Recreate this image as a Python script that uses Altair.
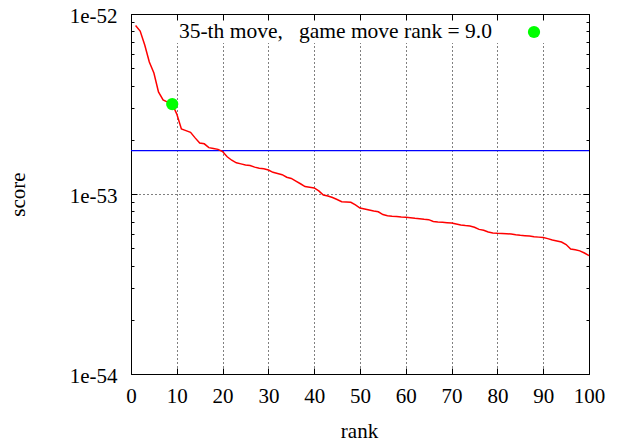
import altair as alt
import pandas as pd

# ---- data ----
ranks = list(range(1, 101))
scores = [
    8.63e-53, 8.04e-53, 6.73e-53, 5.41e-53, 4.70e-53, 3.69e-53, 3.33e-53, 3.24e-53, 3.16e-53, 2.78e-53,
    2.30e-53, 2.25e-53, 2.20e-53, 2.05e-53, 1.92e-53, 1.90e-53, 1.81e-53, 1.79e-53, 1.77e-53, 1.72e-53,
    1.61e-53, 1.54e-53, 1.49e-53, 1.47e-53, 1.45e-53, 1.44e-53, 1.41e-53, 1.39e-53, 1.38e-53, 1.36e-53,
    1.32e-53, 1.30e-53, 1.28e-53, 1.24e-53, 1.22e-53, 1.18e-53, 1.14e-53, 1.10e-53, 1.09e-53, 1.08e-53,
    1.04e-53, 9.87e-54, 9.75e-54, 9.56e-54, 9.32e-54, 9.06e-54, 9.03e-54, 9.00e-54, 8.69e-54, 8.36e-54,
    8.25e-54, 8.15e-54, 8.04e-54, 7.97e-54, 7.69e-54, 7.58e-54, 7.53e-54, 7.50e-54, 7.45e-54, 7.42e-54,
    7.38e-54, 7.33e-54, 7.29e-54, 7.24e-54, 7.20e-54, 7.03e-54, 6.99e-54, 6.96e-54, 6.93e-54, 6.90e-54,
    6.81e-54, 6.73e-54, 6.68e-54, 6.64e-54, 6.53e-54, 6.36e-54, 6.29e-54, 6.15e-54, 6.07e-54, 6.05e-54,
    6.04e-54, 6.02e-54, 5.99e-54, 5.94e-54, 5.90e-54, 5.87e-54, 5.84e-54, 5.79e-54, 5.76e-54, 5.73e-54,
    5.65e-54, 5.55e-54, 5.48e-54, 5.41e-54, 5.24e-54, 4.95e-54, 4.90e-54, 4.83e-54, 4.70e-54, 4.55e-54,
]
threshold = [1.74e-53]
game_rank = [9]
game_score = [3.16e-53]
key_label = "35-th move,\u00a0\u00a0\u00a0game move rank = 9.0"

x_ticks = [0, 10, 20, 30, 40, 50, 60, 70, 80, 90, 100]
y_major = [1e-54, 1e-53, 1e-52]
y_minor = [2e-54, 3e-54, 4e-54, 5e-54, 6e-54, 7e-54, 8e-54, 9e-54,
           2e-53, 3e-53, 4e-53, 5e-53, 6e-53, 7e-53, 8e-53, 9e-53]

df = pd.DataFrame({"rank": ranks, "score": scores})
df_thr = pd.DataFrame({"score": threshold})
df_game = pd.DataFrame({"rank": game_rank, "score": game_score})
one = pd.DataFrame({"k": [0]})

FONT = "Liberation Serif"
W, H = 458, 360

xs = alt.Scale(domain=[0, 100], nice=False, zero=False)
ys = alt.Scale(type="log", domain=[1e-54, 1e-52], nice=False)

x_main = alt.Axis(orient="bottom", values=x_ticks, format="d", grid=True,
                  gridDash=[1, 3], gridColor="black", gridWidth=1,
                  ticks=False, domain=False, labelPadding=28.5,
                  labelBaseline="alphabetic", labelFlush=False, labelOverlap=False,
                  title="rank", titleX=228, titleY=63, titleBaseline="alphabetic",
                  titleAlign="center")
y_main = alt.Axis(orient="left", values=y_major,
                  labelExpr="'1e' + round(log(datum.value) / LN10)",
                  grid=True, gridDash=[1, 3], gridColor="black", gridWidth=1,
                  ticks=False, domain=False, labelPadding=14, labelFlush=False,
                  labelOffset=2.5, labelOverlap=False, title="score", titleAngle=270,
                  titleX=-107, titleY=180, titleBaseline="alphabetic",
                  titleAlign="center")


def tick_axis(orient, offset, values, size):
    return alt.Axis(orient=orient, offset=offset, values=values, labels=False,
                    domain=False, grid=False, ticks=True, tickSize=size,
                    tickColor="black", tickWidth=1, title=None, zindex=1)


def carrier(xaxis, yaxis):
    return alt.Chart(df).mark_point(opacity=0).encode(
        x=alt.X("rank:Q", scale=xs, axis=xaxis),
        y=alt.Y("score:Q", scale=ys, axis=yaxis),
    )


thr = alt.Chart(df_thr).mark_rule(color="#0000ff", strokeWidth=1.2).encode(
    y=alt.Y("score:Q", scale=ys, axis=None)
)

line = alt.Chart(df).mark_line(color="#ff0000", strokeWidth=1.5).encode(
    x=alt.X("rank:Q", scale=xs, axis=x_main),
    y=alt.Y("score:Q", scale=ys, axis=y_main),
)

game = alt.Chart(df_game).mark_circle(size=150, color="#00ff00", opacity=1).encode(
    x=alt.X("rank:Q", scale=xs, axis=None),
    y=alt.Y("score:Q", scale=ys, axis=None),
)

key_box = alt.Chart(one).mark_rect(color="white").encode(
    x=alt.value(36), x2=alt.value(457), y=alt.value(7), y2=alt.value(29)
)
key_text = alt.Chart(one).mark_text(
    align="right", baseline="alphabetic", font=FONT, fontSize=21.5, color="black"
).encode(x=alt.value(361), y=alt.value(24), text=alt.value(key_label))
key_dot = alt.Chart(one).mark_circle(size=150, color="#00ff00", opacity=1).encode(
    x=alt.value(403), y=alt.value(18)
)

c1 = carrier(tick_axis("top", -H, x_ticks, 6), tick_axis("right", -W, y_major, 6))
c2 = carrier(tick_axis("bottom", -H, x_ticks, 6), tick_axis("left", -W, y_major, 6))
c3 = carrier(None, tick_axis("right", -W, y_minor, 3))
c4 = carrier(None, tick_axis("left", -W, y_minor, 3))

chart = alt.layer(
    thr, line, game, key_box, key_text, key_dot, c1, c2, c3, c4
).resolve_scale(x="shared", y="shared").resolve_axis(
    x="independent", y="independent"
).properties(
    width=W, height=H,
    autosize=alt.AutoSizeParams(type="none"),
    padding={"left": 123, "top": 6, "right": 20, "bottom": 67},
).configure_view(
    stroke="black", strokeWidth=1
).configure_axis(
    labelFont=FONT, titleFont=FONT, labelFontSize=21, titleFontSize=21,
    titleFontWeight="normal", labelColor="black", titleColor="black",
)

chart.save("out.html", embed_options={"renderer": "svg", "actions": False})
